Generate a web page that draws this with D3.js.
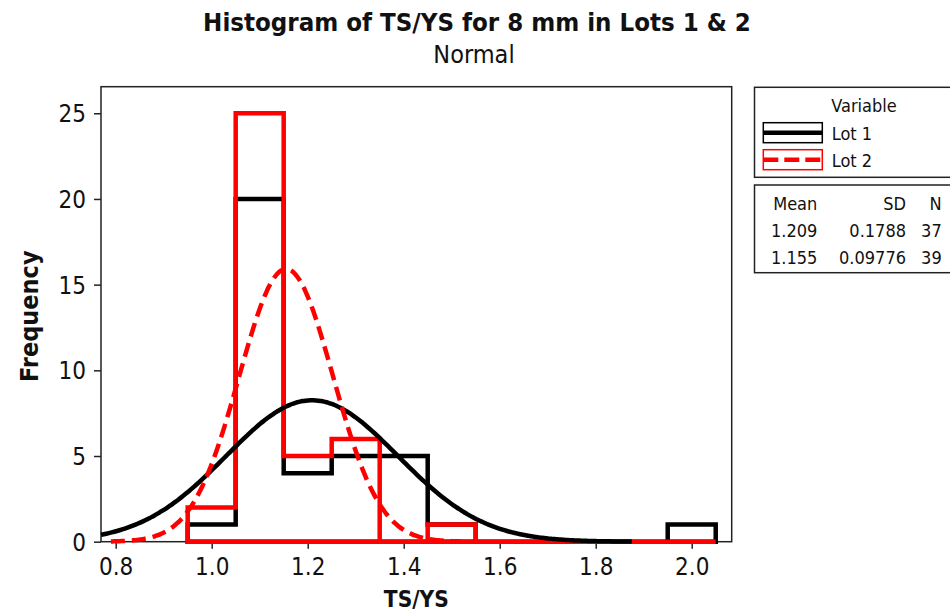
<!DOCTYPE html>
<html>
<head>
<meta charset="utf-8">
<script src="https://cdn.jsdelivr.net/npm/d3@7"></script>
<style>
  body { margin: 0; background: #fff; }
  svg text { font-family: "DejaVu Sans Condensed", "DejaVu Sans", sans-serif; font-stretch: condensed; fill: #111; }
</style>
</head>
<body>
<div id="chart"></div>
<script>
const width = 950
const height = 614

// bin midpoints (bin width 0.1)
const binMids = [1.0, 1.1, 1.2, 1.3, 1.4, 1.5, 1.6, 1.7, 1.8, 1.9, 2.0]
const lot1Counts = [1, 20, 4, 5, 5, 1, 0, 0, 0, 0, 1]
const lot2Counts = [2, 25, 5, 6, 0, 1, 0, 0, 0, 0, 0]
const binWidth = 0.1

const seriesNames = ["Lot 1", "Lot 2"]
const means = [1.209, 1.155]
const sds = [0.1788, 0.09776]
const ns = [37, 39]
const meanLabels = ["1.209", "1.155"]
const sdLabels = ["0.1788", "0.09776"]

const xTicks = [0.8, 1.0, 1.2, 1.4, 1.6, 1.8, 2.0]
const yTicks = [0, 5, 10, 15, 20, 25]

const pLeft = 101, pRight = 731.7, pTop = 86.7, pBottom = 541.7

const svg = d3.select("#chart")
  .append("svg")
  .attr("width", width)
  .attr("height", height)

const x = d3.scaleLinear().domain([0.7694, 2.0833]).range([pLeft, pRight])
const y = d3.scaleLinear().domain([0, 26.55]).range([pBottom, pTop])

// titles
svg.append("text")
  .attr("x", 477).attr("y", 30.7)
  .attr("text-anchor", "middle")
  .attr("font-size", "25.6px").attr("font-weight", "bold")
  .text("Histogram of TS/YS for 8 mm in Lots 1 & 2")

svg.append("text")
  .attr("x", 474).attr("y", 63.3)
  .attr("text-anchor", "middle")
  .attr("font-size", "25px")
  .text("Normal")

// axes
const xAxis = svg.append("g")
  .attr("transform", `translate(0,${pBottom})`)
  .call(d3.axisBottom(x).tickValues(xTicks).tickFormat(d3.format(".1f")).tickSize(7).tickPadding(9))
const yAxis = svg.append("g")
  .attr("transform", `translate(${pLeft},0)`)
  .call(d3.axisLeft(y).tickValues(yTicks).tickSize(7).tickPadding(8))

svg.selectAll(".domain").remove()
svg.selectAll(".tick line").attr("stroke", "#222").attr("stroke-width", 1.5)
svg.selectAll(".tick text").attr("font-size", "24px").attr("font-family", null).attr("fill", "#111")
yAxis.selectAll(".tick text").attr("dy", "0.36em")

// frame
svg.append("rect")
  .attr("x", pLeft).attr("y", pTop)
  .attr("width", pRight - pLeft).attr("height", pBottom - pTop)
  .attr("fill", "none").attr("stroke", "#222").attr("stroke-width", 1.5)

svg.append("text")
  .attr("x", (pLeft + pRight) / 2).attr("y", 606.7)
  .attr("text-anchor", "middle")
  .attr("font-size", "22.5px").attr("font-weight", "bold")
  .text("TS/YS")

svg.append("text")
  .attr("transform", `translate(38,${(pTop + pBottom) / 2 + 2}) rotate(-90)`)
  .attr("text-anchor", "middle")
  .attr("font-size", "25px").attr("font-weight", "bold")
  .text("Frequency")

// histograms: step outline of the bins, closed along the baseline
const plot = svg.append("g")

const stepPoints = counts => {
  const pts = [[binMids[0] - binWidth / 2, 0]]
  binMids.forEach((m, i) => {
    pts.push([m - binWidth / 2, counts[i]])
    pts.push([m + binWidth / 2, counts[i]])
  })
  pts.push([binMids[binMids.length - 1] + binWidth / 2, 0])
  return pts
}
const stepLine = d3.line().x(d => x(d[0])).y(d => y(d[1]))

const drawHist = (counts, color) => {
  plot.append("path")
    .attr("d", stepLine(stepPoints(counts)) + "Z")
    .attr("fill", "none")
    .attr("stroke", color)
    .attr("stroke-width", 4.5)
    .attr("stroke-linejoin", "miter")
}

drawHist(lot1Counts, "#000")
drawHist(lot2Counts, "#ff0000")

// fitted normal curves
const normalCurve = (mu, sd, n, from, to) => {
  const pts = d3.range(from, to + 1e-9, (to - from) / 200)
  return pts.map(v => [v, n * binWidth * Math.exp(-0.5 * ((v - mu) / sd) ** 2) / (sd * Math.sqrt(2 * Math.PI))])
}
const line = d3.line().x(d => x(d[0])).y(d => y(d[1])).curve(d3.curveBasis)

plot.append("path")
  .attr("d", line(normalCurve(means[0], sds[0], ns[0], 0.7694, 1.875)))
  .attr("fill", "none").attr("stroke", "#000").attr("stroke-width", 4.5)

plot.append("path")
  .attr("d", line(normalCurve(means[1], sds[1], ns[1], 0.79, 1.52)))
  .attr("fill", "none").attr("stroke", "#ff0000").attr("stroke-width", 4.5)
  .attr("stroke-dasharray", "14,7")

// legend box
const leg = svg.append("g")
leg.append("rect")
  .attr("x", 754.5).attr("y", 87.3).attr("width", 260).attr("height", 90)
  .attr("fill", "#fff").attr("stroke", "#222").attr("stroke-width", 1.5)
leg.append("text")
  .attr("x", 864).attr("y", 112.3).attr("text-anchor", "middle")
  .attr("font-size", "18px").text("Variable")

const legColors = ["#000", "#ff0000"]
const legDash = [null, "15,6"]
seriesNames.forEach((name, i) => {
  const yy = 122.7 + i * 27
  leg.append("rect")
    .attr("x", 763.3).attr("y", yy).attr("width", 59).attr("height", 20)
    .attr("fill", "#fff").attr("stroke", legColors[i]).attr("stroke-width", 1.5)
  leg.append("line")
    .attr("x1", 763.3).attr("x2", 822.3).attr("y1", yy + 10).attr("y2", yy + 10)
    .attr("stroke", legColors[i]).attr("stroke-width", 4.5)
    .attr("stroke-dasharray", legDash[i])
  leg.append("text")
    .attr("x", 831.7).attr("y", yy + 17.3)
    .attr("font-size", "18px").text(name)
})

// stats table
const tbl = svg.append("g")
tbl.append("rect")
  .attr("x", 754.5).attr("y", 185).attr("width", 260).attr("height", 87.7)
  .attr("fill", "#fff").attr("stroke", "#222").attr("stroke-width", 1.5)
const cols = [817.3, 906, 941.7]
const headers = ["Mean", "SD", "N"]
headers.forEach((h, j) => {
  tbl.append("text").attr("x", cols[j]).attr("y", 210)
    .attr("text-anchor", "end").attr("font-size", "18px").text(h)
})
seriesNames.forEach((name, i) => {
  const row = [meanLabels[i], sdLabels[i], String(ns[i])]
  row.forEach((v, j) => {
    tbl.append("text").attr("x", cols[j]).attr("y", 236.7 + i * 27.3)
      .attr("text-anchor", "end").attr("font-size", "18px").text(v)
  })
})
</script>
</body>
</html>
